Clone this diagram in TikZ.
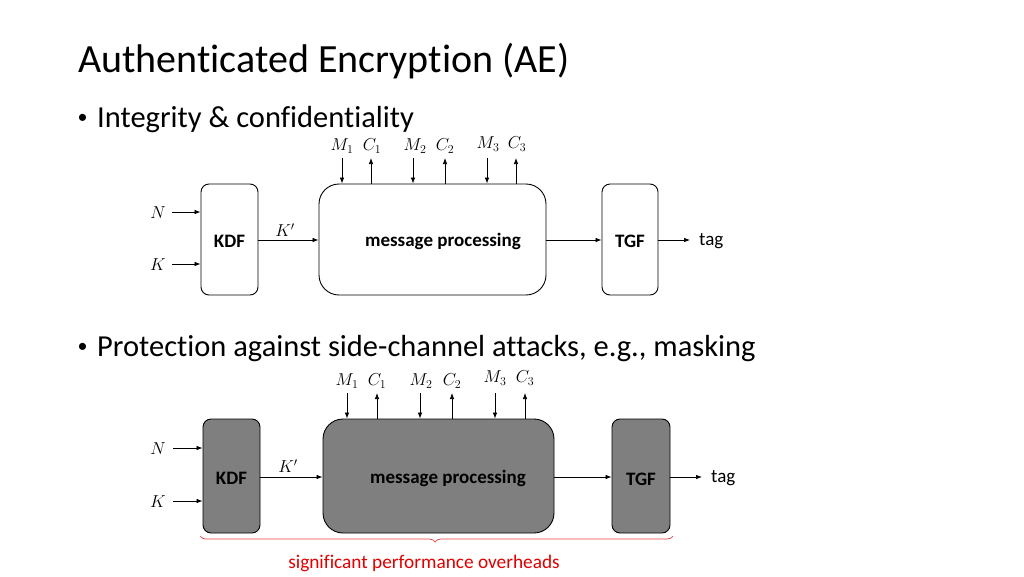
\documentclass[tikz,border=0pt]{standalone}
\usepackage{fontspec}
\setmainfont{Carlito}[Ligatures=NoCommon]
\usetikzlibrary{arrows.meta,decorations.pathreplacing}
\definecolor{boxgray}{HTML}{7F7F7F}
\definecolor{bracered}{HTML}{E8403F}
\definecolor{textred}{HTML}{E00000}
\begin{document}
\begin{tikzpicture}[x=1pt,y=-1pt,
  blk/.style={draw=black,line width=0.9pt,rounded corners=8pt,inner sep=0pt},
  bigblk/.style={draw=black,line width=0.9pt,rounded corners=20pt,inner sep=0pt},
  grayfill/.style={fill=boxgray},
  arr/.style={line width=0.7pt,-{Latex[length=6pt,width=4.5pt]}},
  lab/.style={font=\fontsize{17}{20}\selectfont,inner sep=0pt},
  btxt/.style={font=\fontsize{19}{22}\selectfont\bfseries,inner sep=0pt},
  rtxt/.style={font=\fontsize{19}{22}\selectfont,inner sep=0pt},
  bul/.style={anchor=base west,inner sep=0pt,font=\fontsize{30.5}{36}\selectfont},
  dot/.style={inner sep=0pt,font=\fontsize{20}{24}\selectfont},
]
\useasboundingbox (0,0) rectangle (1024,576);
% title and bullets
\node[anchor=base west,inner sep=0pt,font=\fontsize{40}{48}\selectfont] (title) at (78,72) {Authenticated Encryption (AE)};
\node[dot] (d1) at (82.5,119) {•};
\node[bul] (b1) at (97,127) {Integrity \& confidentiality};
\node[dot] (d2) at (82.5,348) {•};
\node[bul] (b2) at (97,356) {Protection against side-channel attacks, e.g., masking};

% ---------- top diagram ----------
\node[blk,minimum width=57pt,minimum height=111pt] (kdf1) at (229.5,239.5) {};
\node[btxt] (kdf1t) at (229.5,241) {KDF};
\node[bigblk,minimum width=227pt,minimum height=111pt] (mp1) at (432.5,239.5) {};
\node[btxt] (mp1t) at (443,241) {message processing};
\node[blk,minimum width=56pt,minimum height=111pt] (tgf1) at (630,239.5) {};
\node[btxt] (tgf1t) at (630,241) {TGF};
\node[lab] (n1) at (158,213) {$N$};
\node[lab] (k1) at (158,265) {$K$};
\coordinate (n1s) at (172,212);
\coordinate (k1s) at (172,264);
\draw[arr] (n1s) -- (n1s -| kdf1.west);
\draw[arr] (k1s) -- (k1s -| kdf1.west);
\draw[arr] (kdf1.east |- 0,240) -- (mp1.west |- 0,240);
\node[lab] (kp1) at (285,230) {$K'$};
\draw[arr] (mp1.east |- 0,240) -- (tgf1.west |- 0,240);
\coordinate (tag1s) at (690,240);
\draw[arr] (tgf1.east |- 0,240) -- (tag1s);
\node[rtxt,anchor=west] (tag1) at (699,241) {tag};
% top in/out
\coordinate (m1a) at (342,158); \coordinate (c1a) at (371,158);
\coordinate (m2a) at (413,158); \coordinate (c2a) at (445,158);
\coordinate (m3a) at (487,158); \coordinate (c3a) at (516,158);
\draw[arr] (m1a) -- (m1a |- mp1.north);
\draw[arr] (c1a |- mp1.north) -- (c1a);
\draw[arr] (m2a) -- (m2a |- mp1.north);
\draw[arr] (c2a |- mp1.north) -- (c2a);
\draw[arr] (m3a) -- (m3a |- mp1.north);
\draw[arr] (c3a |- mp1.north) -- (c3a);
\node[lab] (m1l) at (342,146) {$M_1$};
\node[lab] (c1l) at (372,146) {$C_1$};
\node[lab] (m2l) at (415,146) {$M_2$};
\node[lab] (c2l) at (445,146) {$C_2$};
\node[lab] (m3l) at (488,144) {$M_3$};
\node[lab] (c3l) at (517,144) {$C_3$};

% ---------- bottom diagram ----------
\node[blk,grayfill,minimum width=57pt,minimum height=114pt] (kdf2) at (231.5,476) {};
\node[btxt] (kdf2t) at (231.5,478) {KDF};
\node[bigblk,grayfill,minimum width=231pt,minimum height=114pt] (mp2) at (438.5,476) {};
\node[btxt] (mp2t) at (448,478) {message processing};
\node[blk,grayfill,minimum width=58pt,minimum height=114pt] (tgf2) at (641,476) {};
\node[btxt] (tgf2t) at (641,479) {TGF};
\node[lab] (n2) at (158,449) {$N$};
\node[lab] (k2) at (158,502) {$K$};
\coordinate (n2s) at (173,448);
\coordinate (k2s) at (173,501);
\draw[arr] (n2s) -- (n2s -| kdf2.west);
\draw[arr] (k2s) -- (k2s -| kdf2.west);
\draw[arr] (kdf2.east |- 0,477) -- (mp2.west |- 0,477);
\node[lab] (kp2) at (288,466) {$K'$};
\draw[arr] (mp2.east |- 0,477) -- (tgf2.west |- 0,477);
\coordinate (tag2s) at (702,477);
\draw[arr] (tgf2.east |- 0,477) -- (tag2s);
\node[rtxt,anchor=west] (tag2) at (711,478) {tag};
\coordinate (m1b) at (347,393); \coordinate (c1b) at (377,393);
\coordinate (m2b) at (420,393); \coordinate (c2b) at (452,393);
\coordinate (m3b) at (495,393); \coordinate (c3b) at (525,393);
\draw[arr] (m1b) -- (m1b |- mp2.north);
\draw[arr] (c1b |- mp2.north) -- (c1b);
\draw[arr] (m2b) -- (m2b |- mp2.north);
\draw[arr] (c2b |- mp2.north) -- (c2b);
\draw[arr] (m3b) -- (m3b |- mp2.north);
\draw[arr] (c3b |- mp2.north) -- (c3b);
\node[lab] (m1lb) at (347,381) {$M_1$};
\node[lab] (c1lb) at (377,381) {$C_1$};
\node[lab] (m2lb) at (421,381) {$M_2$};
\node[lab] (c2lb) at (452,381) {$C_2$};
\node[lab] (m3lb) at (495,378) {$M_3$};
\node[lab] (c3lb) at (525,378) {$C_3$};
% brace
\coordinate (brl) at (200,536);
\coordinate (brr) at (673,536);
\draw[bracered,line width=0.7pt,decorate,decoration={brace,mirror,amplitude=6pt,aspect=0.497}] (brl) -- (brr);
\node[font=\fontsize{19.3}{23}\selectfont,text=textred,inner sep=0pt] (ovh) at (424,563) {significant performance overheads};
\end{tikzpicture}
\end{document}
